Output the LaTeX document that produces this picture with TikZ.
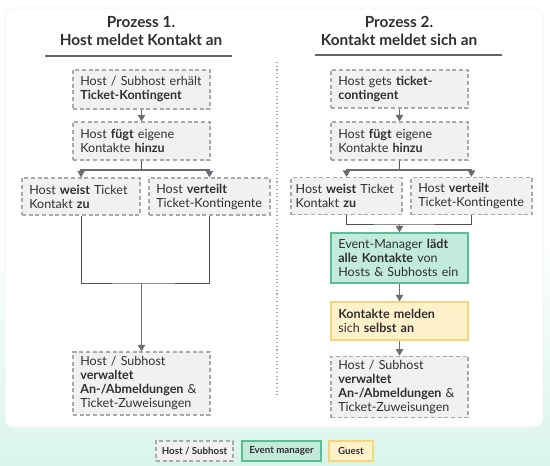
\documentclass[tikz,border=0pt]{standalone}
\usepackage{fontspec}
\setmainfont{Lato}
\usepackage{xcolor}
\usetikzlibrary{arrows.meta, positioning, calc}

\definecolor{txt}{HTML}{2F3033}
\definecolor{boxfill}{HTML}{F1F1F1}
\definecolor{boxline}{HTML}{A9A9A9}
\definecolor{arrowgray}{HTML}{6A6D72}
\definecolor{linkgray}{HTML}{505256}
\definecolor{mgrfill}{HTML}{C3EBDB}
\definecolor{mgrline}{HTML}{5BBE97}
\definecolor{guestfill}{HTML}{FFF1CA}
\definecolor{guestline}{HTML}{F3D67E}
\definecolor{mint}{HTML}{D9F5EA}

\tikzset{
    basebox/.style={rectangle, align=left, inner xsep=5.5pt, inner ysep=3pt, line width=0.8pt,
        text=txt, font=\fontsize{9.4}{10.5}\selectfont},
    hostbox/.style={basebox, draw=boxline, dashed, dash pattern=on 3pt off 2pt, fill=boxfill},
    mgrbox/.style={basebox, draw=mgrline, fill=mgrfill},
    guestbox/.style={basebox, draw=guestline, fill=guestfill},
    arr/.style={draw=arrowgray, line width=1.1pt, -{Triangle[length=5pt,width=5.5pt]}},
    link/.style={draw=linkgray, line width=0.75pt},
    heading/.style={align=center, font=\bfseries\fontsize{11.5}{13.5}\selectfont, text=txt},
    legend/.style={align=center, inner sep=0pt, minimum height=15pt, line width=0.8pt,
        font=\bfseries\fontsize{7.3}{8}\selectfont, text=txt}
}

\begin{document}
\begin{tikzpicture}[x=0.75pt, y=-0.75pt]
    \useasboundingbox (0,0) rectangle (550,465);
    % background and panel
    \fill[white] (0,0) rectangle (550,232);
    \shade[top color=white, bottom color=mint] (0,232) rectangle (550,465);
    \fill[white, draw=gray!12, rounded corners=6pt] (5,8) rectangle (543,427);

    % headings
    \node[heading] (head1) at (141,31) {Prozess 1.\\Host meldet Kontakt an};
    \node[heading] (head2) at (399,31) {Prozess 2.\\Kontakt meldet sich an};
    \draw[gray!80!black, line width=0.8pt] (45,56) -- (232,56);
    \draw[gray!80!black, line width=0.8pt] (315,55) -- (502,55);
    \draw[gray!70, line width=0.8pt, dotted] (277,62) -- (277,395);

    % Prozess 1
    \node[hostbox, text width=91.75pt, minimum height=29.25pt] (a1) at (141.5,89.5)
        {Host / Subhost erhält\\\textbf{Ticket-Kontingent}};
    \node[hostbox, text width=91.75pt, minimum height=28.5pt] (a2) at (141.5,141)
        {Host \textbf{fügt} eigene\\Kontakte \textbf{hinzu}};
    \node[hostbox, text width=77.5pt, minimum height=27.75pt] (a3) at (81,196.5)
        {Host \textbf{weist} Ticket\\Kontakt \textbf{zu}};
    \node[hostbox, text width=79.75pt, minimum height=27.75pt] (a4) at (209.5,196.5)
        {Host \textbf{verteilt}\\Ticket-Kontingente};
    \node[hostbox, text width=91.75pt, minimum height=47.25pt] (a5) at (141.5,383.5)
        {Host / Subhost\\\textbf{verwaltet}\\\textbf{An-/Abmeldungen} \&\\Ticket-Zuweisungen};

    \draw[arr] (a1) -- (a2);
    \coordinate (split1) at (141.5,170);
    \draw[link] (a2) -- (split1);
    \draw[arr] (split1) -| (a3.north);
    \draw[arr] (split1) -| (a4.north);
    \coordinate (merge1) at (141.5,283);
    \draw[link] (a3.south) |- (merge1) -| (a4.south);
    \draw[arr] (merge1) -- (a5.north);

    % Prozess 2
    \node[hostbox, text width=91.75pt, minimum height=28.5pt] (b1) at (399.5,89)
        {Host gets \textbf{ticket-}\\\textbf{contingent}};
    \node[hostbox, text width=91.75pt, minimum height=28.5pt] (b2) at (399.5,141)
        {Host \textbf{fügt} eigene\\Kontakte \textbf{hinzu}};
    \node[hostbox, inner xsep=3.5pt, text width=76.25pt, minimum height=27.75pt] (b3) at (346.5,196)
        {Host \textbf{weist} Ticket\\Kontakt \textbf{zu}};
    \node[hostbox, text width=79.75pt, minimum height=27.75pt] (b4) at (471.5,196)
        {Host \textbf{verteilt}\\Ticket-Kontingente};
    \node[mgrbox, text width=91.75pt, minimum height=37.5pt] (b5) at (399.5,258)
        {Event-Manager \textbf{lädt}\\\textbf{alle Kontakte} von\\Hosts \& Subhosts ein};
    \node[guestbox, text width=91.75pt, minimum height=28.5pt] (b6) at (399.5,321)
        {\textbf{Kontakte melden}\\sich \textbf{selbst an}};
    \node[hostbox, text width=91.75pt, minimum height=45pt] (b7) at (399.5,387)
        {Host / Subhost\\\textbf{verwaltet}\\\textbf{An-/Abmeldungen} \&\\Ticket-Zuweisungen};

    \draw[arr] (b1) -- (b2);
    \coordinate (split2) at (399.5,170);
    \draw[link] (b2) -- (split2);
    \draw[arr] (split2) -| (b3.north);
    \draw[arr] (split2) -| (b4.north);
    \coordinate (merge2) at (399.5,224);
    \draw[link] (b3.south) |- (merge2) -| (b4.south);
    \draw[arr] (merge2) -- (b5.north);
    \draw[arr] (b5) -- (b6);
    \draw[arr] (b6) -- (b7);

    % legend
    \node[hostbox, legend, minimum width=57.75pt] (leg1) at (194.5,451) {Host / Subhost};
    \node[legend, draw=mgrline, fill=mgrfill, minimum width=59.25pt] (leg2) at (281.5,451) {Event manager};
    \node[legend, draw=guestline, fill=guestfill, minimum width=33pt] (leg3) at (351,451) {Guest};
\end{tikzpicture}
\end{document}
